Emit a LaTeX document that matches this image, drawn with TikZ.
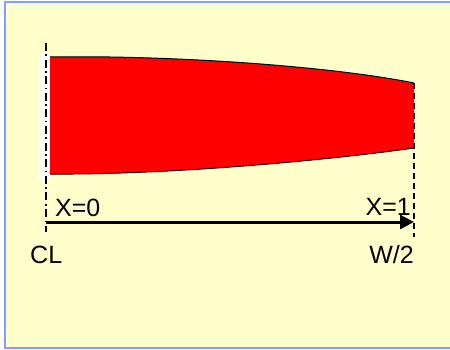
\documentclass[tikz,border=0pt]{standalone}
\usepackage{fontspec}
\setmainfont{Liberation Sans}
\usetikzlibrary{arrows.meta}
\definecolor{bgyellow}{RGB}{255,255,204}
\definecolor{frameblue}{RGB}{128,160,255}
\definecolor{shapered}{RGB}{255,0,0}
\tikzset{
  lbl/.style={inner sep=0pt, font=\fontsize{25}{28}\selectfont},
  cline/.style={line width=2.5pt, dash pattern=on 8pt off 3.5pt on 1.6pt off 3.5pt},
  eline/.style={line width=2.5pt, dash pattern=on 6pt off 4pt},
  axis/.style={line width=3pt, -{Triangle[length=14pt,width=14pt]}}
}
\begin{document}
\begin{tikzpicture}[x=1pt,y=-1pt]
\useasboundingbox (0,0) rectangle (450,350);
\fill[white] (0,0) rectangle (450,350);
\draw[fill=bgyellow, draw=frameblue, line width=2pt] (4.5,2.5) rectangle (470,347.5);
% white strip behind centre line
\fill[white] (39,54) rectangle (50,179);
% red section
\fill[shapered] (50,57) .. controls (170,55) and (330,66) .. (414,83)
  -- (414,148) .. controls (330,160) and (170,175) .. (50,174) -- cycle;
\draw[line width=1pt] (50,57) .. controls (170,55) and (330,66) .. (414,83);
\draw[line width=1pt] (414,148) .. controls (330,160) and (170,175) .. (50,174);
% reference lines
\coordinate (cltop) at (46,43);
\coordinate (clbot) at (46,232);
\coordinate (wtop) at (414,83);
\coordinate (wbot) at (414,237);
\coordinate (a0) at (46,222);
\coordinate (a1) at (414,222);
\draw[cline] (cltop) -- (clbot);
\draw[eline] (wtop) -- (wbot);
\draw[axis] (a0) -- (a1);
% labels
\node[lbl, anchor=base west] (x0) at (55,216) {X=0};
\node[lbl, anchor=base east] (x1) at (411,215) {X=1};
\node[lbl, anchor=base west] (cl) at (30,263) {CL};
\node[lbl, anchor=base east] (w2) at (414,263) {W/2};
\end{tikzpicture}
\end{document}
